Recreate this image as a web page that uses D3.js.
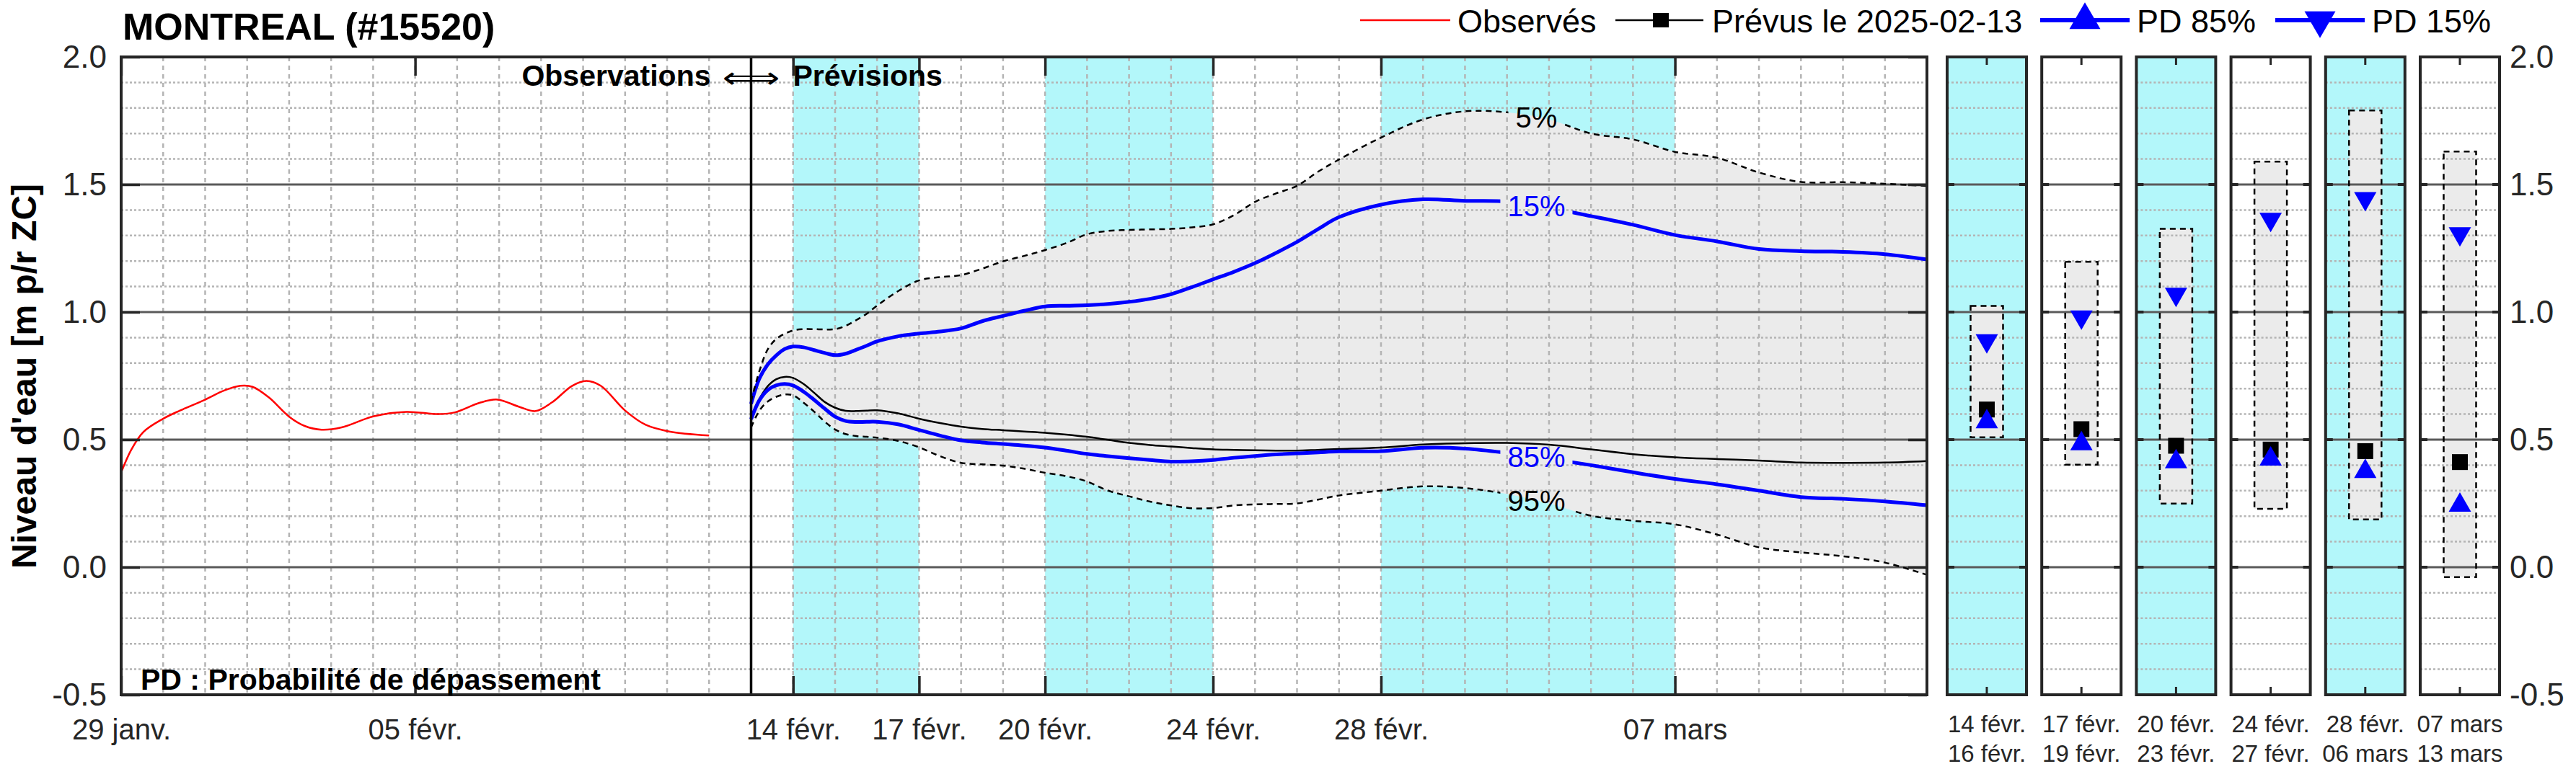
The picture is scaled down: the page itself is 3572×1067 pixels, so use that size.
<!DOCTYPE html>
<html><head><meta charset="utf-8">
<script src="https://cdn.jsdelivr.net/npm/d3@7"></script>
<style>
body{margin:0;background:#fff}
svg{display:block;font-family:"Liberation Sans",Arial,Helvetica,sans-serif}
</style>
</head><body>
<svg id="chart" width="3572" height="1067"></svg>
<script>
// ---------------- DATA ----------------
const title = "MONTREAL (#15520)";
const yAxisTitle = "Niveau d'eau [m p/r ZC]";
const obsStart = "2025-01-29";
const obsDays  = [0,0.24,0.53,0.99,1.4,1.99,2.46,2.84,3.13,3.52,4.0,4.38,4.77,5.25,6.02,6.79,7.56,7.95,8.53,8.96,9.49,9.87,10.26,10.74,11.08,11.42,12.0,12.49,13.05,14.0];
const obsLevel = [0.371,0.46,0.53,0.581,0.614,0.656,0.693,0.711,0.707,0.665,0.59,0.553,0.539,0.548,0.592,0.609,0.6,0.607,0.644,0.657,0.628,0.612,0.646,0.711,0.73,0.711,0.614,0.558,0.532,0.516];

const fcStart = "2025-02-13";
const fcDays = [0,0.2,0.4,0.6,0.8,1.0,1.25,1.5,1.75,2.0,2.25,2.5,2.75,3.0,3.5,4.0,4.5,5.0,5.5,6.0,6.5,7.0,7.5,8.0,8.5,9.0,9.5,10,10.5,11,11.5,12,12.5,13,13.5,14,15,16,17,18,19,20,21,22,23,24,25,26,27,28];
const p05 = [0.65,0.77,0.855,0.895,0.915,0.928,0.933,0.933,0.932,0.933,0.946,0.968,0.993,1.025,1.082,1.124,1.137,1.145,1.17,1.199,1.22,1.243,1.27,1.305,1.318,1.322,1.324,1.326,1.332,1.344,1.38,1.432,1.465,1.495,1.55,1.598,1.684,1.755,1.787,1.783,1.755,1.70,1.677,1.628,1.605,1.547,1.51,1.509,1.503,1.494];
const p15 = [0.64,0.74,0.795,0.83,0.855,0.865,0.862,0.851,0.84,0.831,0.837,0.852,0.868,0.885,0.905,0.916,0.924,0.936,0.964,0.985,1.005,1.022,1.025,1.027,1.032,1.04,1.052,1.07,1.098,1.128,1.158,1.192,1.232,1.275,1.325,1.372,1.421,1.442,1.436,1.433,1.408,1.376,1.342,1.302,1.277,1.247,1.239,1.236,1.227,1.206];
const prevu = [0.59,0.66,0.71,0.737,0.746,0.742,0.718,0.684,0.648,0.625,0.613,0.612,0.614,0.615,0.603,0.582,0.565,0.551,0.542,0.537,0.532,0.527,0.52,0.511,0.499,0.487,0.479,0.473,0.467,0.462,0.46,0.458,0.457,0.457,0.46,0.463,0.469,0.481,0.486,0.487,0.48,0.462,0.443,0.431,0.424,0.418,0.41,0.409,0.41,0.416];
const p85 = [0.58,0.655,0.695,0.713,0.718,0.712,0.688,0.656,0.622,0.59,0.573,0.569,0.57,0.57,0.56,0.538,0.516,0.497,0.489,0.483,0.477,0.469,0.457,0.444,0.435,0.427,0.42,0.414,0.415,0.42,0.429,0.436,0.442,0.446,0.45,0.454,0.455,0.468,0.465,0.448,0.425,0.4,0.372,0.346,0.325,0.3,0.275,0.268,0.258,0.243];
const p95 = [0.548,0.614,0.65,0.668,0.677,0.674,0.645,0.61,0.571,0.54,0.522,0.514,0.511,0.508,0.495,0.47,0.435,0.409,0.403,0.398,0.386,0.37,0.357,0.336,0.3,0.278,0.257,0.242,0.231,0.232,0.242,0.246,0.248,0.25,0.265,0.281,0.3,0.317,0.31,0.287,0.25,0.202,0.182,0.168,0.128,0.078,0.058,0.043,0.018,-0.03];

const contourLabels = ["5%","15%","85%","95%"];
const contourLabelDay = 18.7;

const xDomain = ["2025-01-29","2025-03-13"];
const xTickDates  = ["2025-01-29","2025-02-05","2025-02-14","2025-02-17","2025-02-20","2025-02-24","2025-02-28","2025-03-07"];
const xTickLabels = ["29 janv.","05 févr.","14 févr.","17 févr.","20 févr.","24 févr.","28 févr.","07 mars"];
const shadeStarts = ["2025-02-14","2025-02-20","2025-02-28"];
const shadeEnds   = ["2025-02-17","2025-02-24","2025-03-07"];
const yDomain = [-0.5, 2.0];
const yTicks = [-0.5,0,0.5,1,1.5,2];
const yTickLabels = ["-0.5","0.0","0.5","1.0","1.5","2.0"];

const periodStart  = ["14 févr.","17 févr.","20 févr.","24 févr.","28 févr.","07 mars"];
const periodEnd    = ["16 févr.","19 févr.","23 févr.","27 févr.","06 mars","13 mars"];
const periodShaded = [true,false,true,false,true,false];
const periodMax    = [1.024,1.197,1.326,1.59,1.79,1.629];
const periodMin    = [0.509,0.402,0.249,0.229,0.187,-0.039];
const periodPD15   = [0.888,0.981,1.070,1.364,1.445,1.307];
const periodPrevu  = [0.618,0.541,0.476,0.461,0.455,0.412];
const periodPD85   = [0.570,0.484,0.413,0.424,0.375,0.243];

const legendLabels = ["Observés","Prévus le 2025-02-13","PD 85%","PD 15%"];
const noteObs = "Observations";
const noteArrow = "\u27FA";
const notePrev = "Prévisions";
const notePD = "PD : Probabilité de dépassement";

// ---------------- STYLE / LAYOUT ----------------
const CYAN = "#b3f7fa", FILL = "#ebebeb", FRAME = "#262626", GRID = "#b4b4b4", MAJOR = "#5a5a5a", BLUE = "#0000ff";
const M = {left:168, right:2672, top:79, bottom:964};
const svg = d3.select("#chart");
const parse = s => new Date(s + "T00:00:00Z");
const addDays = (base, d) => new Date(parse(base).getTime() + d * 864e5);

const x = d3.scaleUtc().domain(xDomain.map(parse)).range([M.left, M.right]);
const y = d3.scaleLinear().domain(yDomain).range([M.bottom, M.top]);
const curve = d3.curveCatmullRom.alpha(0.5);

// ---------------- MAIN PLOT ----------------
const g = svg.append("g");
g.selectAll("rect.shade").data(shadeStarts).join("rect")
  .attr("x", (d) => x(parse(d))).attr("y", M.top)
  .attr("width", (d,i) => x(parse(shadeEnds[i])) - x(parse(d)))
  .attr("height", M.bottom - M.top).attr("fill", CYAN);

const fc = fcDays.map((d,i) => ({t: addDays(fcStart, d), p05:p05[i], p15:p15[i], med:prevu[i], p85:p85[i], p95:p95[i]}));
const obs = obsDays.map((d,i) => ({t: addDays(obsStart, d), v: obsLevel[i]}));

g.append("path").datum(fc)
  .attr("d", d3.area().x(d => x(d.t)).y0(d => y(d.p95)).y1(d => y(d.p05)).curve(curve))
  .attr("fill", FILL);

const grid = g.append("g");
const days = d3.utcDay.range(d3.utcDay.offset(parse(xDomain[0]),1), parse(xDomain[1]));
grid.selectAll("line.v").data(days).join("line")
  .attr("x1", d => x(d)).attr("x2", d => x(d)).attr("y1", M.top).attr("y2", M.bottom)
  .attr("stroke", GRID).attr("stroke-width", 2.5).attr("stroke-dasharray", "6,6");
const minorY = d3.range(-4, 20).filter(k => k % 5 !== 0).map(k => k/10);
grid.selectAll("line.h").data(minorY).join("line")
  .attr("x1", M.left).attr("x2", M.right).attr("y1", d => y(d)).attr("y2", d => y(d))
  .attr("stroke", GRID).attr("stroke-width", 2.5).attr("stroke-dasharray", "3,3");
grid.selectAll("line.M").data(yTicks.filter(v => v > yDomain[0] && v < yDomain[1])).join("line")
  .attr("x1", M.left).attr("x2", M.right).attr("y1", d => y(d)).attr("y2", d => y(d))
  .attr("stroke", MAJOR).attr("stroke-width", 3);

g.append("path").datum(obs)
  .attr("d", d3.line().x(d => x(d.t)).y(d => y(d.v)).curve(curve))
  .attr("fill", "none").attr("stroke", "#ff0000").attr("stroke-width", 2.5);

g.append("path").datum(fc)
  .attr("d", d3.line().x(d => x(d.t)).y(d => y(d.med)).curve(curve))
  .attr("fill", "none").attr("stroke", "#000").attr("stroke-width", 2.5);

const labelDate = addDays(fcStart, contourLabelDay);
const interp = (arr) => {
  const i = d3.bisectRight(fcDays, contourLabelDay) - 1;
  const f = (contourLabelDay - fcDays[i]) / (fcDays[i+1] - fcDays[i]);
  return arr[i] + f * (arr[i+1] - arr[i]);
};
const labelVals = [p05, p15, p85, p95].map(interp);
const labelColors = ["#000", BLUE, BLUE, "#000"];
const defs = svg.append("defs");
const mask = defs.append("mask").attr("id","gapmask").attr("maskUnits","userSpaceOnUse")
  .attr("x",0).attr("y",0).attr("width",3572).attr("height",1067);
mask.append("rect").attr("x",0).attr("y",0).attr("width",3572).attr("height",1067).attr("fill","#fff");

const lines = g.append("g").attr("mask","url(#gapmask)");
lines.append("path").datum(fc).attr("d", d3.line().x(d => x(d.t)).y(d => y(d.p15)).curve(curve))
  .attr("fill","none").attr("stroke",BLUE).attr("stroke-width",5);
lines.append("path").datum(fc).attr("d", d3.line().x(d => x(d.t)).y(d => y(d.p85)).curve(curve))
  .attr("fill","none").attr("stroke",BLUE).attr("stroke-width",5);
lines.append("path").datum(fc).attr("d", d3.line().x(d => x(d.t)).y(d => y(d.p05)).curve(curve))
  .attr("fill","none").attr("stroke","#000").attr("stroke-width",2.5).attr("stroke-dasharray","8,6");
lines.append("path").datum(fc).attr("d", d3.line().x(d => x(d.t)).y(d => y(d.p95)).curve(curve))
  .attr("fill","none").attr("stroke","#000").attr("stroke-width",2.5).attr("stroke-dasharray","8,6");

const lblG = g.append("g");
contourLabels.forEach((t,i) => {
  const tx = lblG.append("text").attr("x", x(labelDate)).attr("y", y(labelVals[i]))
    .attr("text-anchor","middle").attr("dominant-baseline","central")
    .attr("font-size", 40).attr("fill", labelColors[i]).text(t);
  const w = tx.node().getComputedTextLength();
  mask.append("rect").attr("x", x(labelDate) - w/2 - 10).attr("y", y(labelVals[i]) - 26)
    .attr("width", w + 20).attr("height", 52).attr("fill","#000");
});

g.append("line").attr("x1", x(parse(fcStart))).attr("x2", x(parse(fcStart)))
  .attr("y1", M.top).attr("y2", M.bottom).attr("stroke","#000").attr("stroke-width",3.5);

const axB = d3.axisBottom(x).tickValues(xTickDates.map(parse)).tickFormat((d,i) => xTickLabels[i])
  .tickSizeInner(-26).tickSizeOuter(0).tickPadding(34);
const gB = g.append("g").attr("transform", `translate(0,${M.bottom})`).call(axB);
const axT = d3.axisTop(x).tickValues(xTickDates.map(parse)).tickFormat("").tickSizeInner(-26).tickSizeOuter(0);
const gT = g.append("g").attr("transform", `translate(0,${M.top})`).call(axT);
const axL = d3.axisLeft(y).tickValues(yTicks).tickFormat((d,i) => yTickLabels[i]).tickSizeInner(-26).tickSizeOuter(0).tickPadding(20);
const gL = g.append("g").attr("transform", `translate(${M.left},0)`).call(axL);
const axR = d3.axisRight(y).tickValues(yTicks).tickFormat("").tickSizeInner(-26).tickSizeOuter(0);
const gR = g.append("g").attr("transform", `translate(${M.right},0)`).call(axR);
[gB,gT,gL,gR].forEach(a => {
  a.select(".domain").remove();
  a.selectAll(".tick line").attr("stroke", FRAME).attr("stroke-width", 3.5);
  a.selectAll("text").attr("fill", FRAME).attr("font-family", null);
});
gB.selectAll("text").attr("font-size", 40);
gL.selectAll("text").attr("font-size", 44);
g.append("rect").attr("x", M.left).attr("y", M.top).attr("width", M.right - M.left).attr("height", M.bottom - M.top)
  .attr("fill","none").attr("stroke", FRAME).attr("stroke-width", 4);

const bx = x(parse(fcStart));
g.append("text").attr("x", bx - 56).attr("y", 119).attr("text-anchor","end")
  .attr("font-size",41).attr("font-weight","bold").text(noteObs);
g.append("text").attr("x", bx).attr("y", 108).attr("text-anchor","middle").attr("dominant-baseline","central")
  .attr("font-size",41).attr("textLength",80).attr("lengthAdjust","spacingAndGlyphs")
  .style("font-family","DejaVu Sans").text(noteArrow);
g.append("text").attr("x", bx + 58).attr("y", 119)
  .attr("font-size",41).attr("font-weight","bold").text(notePrev);
g.append("text").attr("x", 195).attr("y", 957)
  .attr("font-size",41).attr("font-weight","bold").text(notePD);

svg.append("text").attr("x", 170).attr("y", 55).attr("font-size", 52).attr("font-weight","bold").text(title);
svg.append("text").attr("transform","translate(50,522) rotate(-90)").attr("text-anchor","middle")
  .attr("font-size", 48).attr("font-weight","bold").text(yAxisTitle);

// ---------------- PANELS ----------------
const pb = d3.scaleBand().domain(d3.range(periodStart.length)).range([2700, 3466]).paddingInner(0.1616).paddingOuter(0);
const triUp = (w,h) => `M0,${-2*h/3}L${w/2},${h/3}L${-w/2},${h/3}Z`;
const triDown = (w,h) => `M0,${2*h/3}L${w/2},${-h/3}L${-w/2},${-h/3}Z`;

periodStart.forEach((lab, i) => {
  const px = pb(i), pw = pb.bandwidth(), cx = px + pw/2;
  const pg = svg.append("g");
  pg.append("rect").attr("x", px).attr("y", M.top).attr("width", pw).attr("height", M.bottom - M.top)
    .attr("fill", periodShaded[i] ? CYAN : "#fff");
  pg.append("rect").attr("x", cx - 22.5).attr("y", y(periodMax[i])).attr("width", 45)
    .attr("height", y(periodMin[i]) - y(periodMax[i])).attr("fill", FILL);
  pg.selectAll("line.h").data(minorY).join("line")
    .attr("x1", px).attr("x2", px + pw).attr("y1", d => y(d)).attr("y2", d => y(d))
    .attr("stroke", GRID).attr("stroke-width", 2.5).attr("stroke-dasharray", "3,3");
  pg.selectAll("line.M").data(yTicks.filter(v => v > yDomain[0] && v < yDomain[1])).join("line")
    .attr("x1", px).attr("x2", px + pw).attr("y1", d => y(d)).attr("y2", d => y(d))
    .attr("stroke", MAJOR).attr("stroke-width", 3);
  pg.append("rect").attr("x", cx - 22.5).attr("y", y(periodMax[i])).attr("width", 45)
    .attr("height", y(periodMin[i]) - y(periodMax[i])).attr("fill", "none")
    .attr("stroke","#000").attr("stroke-width",2.5).attr("stroke-dasharray","8,6");
  pg.append("rect").attr("x", cx - 11).attr("y", y(periodPrevu[i]) - 11).attr("width", 22).attr("height", 22).attr("fill","#000");
  pg.append("path").attr("d", triUp(31,27)).attr("transform", `translate(${cx},${y(periodPD85[i])})`).attr("fill", BLUE);
  pg.append("path").attr("d", triDown(31,27)).attr("transform", `translate(${cx},${y(periodPD15[i])})`).attr("fill", BLUE);
  yTicks.forEach(v => {
    pg.append("line").attr("x1", px).attr("x2", px + 10).attr("y1", y(v)).attr("y2", y(v)).attr("stroke", FRAME).attr("stroke-width", 4);
    pg.append("line").attr("x1", px + pw - 10).attr("x2", px + pw).attr("y1", y(v)).attr("y2", y(v)).attr("stroke", FRAME).attr("stroke-width", 4);
  });
  pg.append("line").attr("x1", cx).attr("x2", cx).attr("y1", M.top).attr("y2", M.top + 11).attr("stroke", FRAME).attr("stroke-width", 3);
  pg.append("line").attr("x1", cx).attr("x2", cx).attr("y1", M.bottom).attr("y2", M.bottom - 11).attr("stroke", FRAME).attr("stroke-width", 3);
  pg.append("rect").attr("x", px).attr("y", M.top).attr("width", pw).attr("height", M.bottom - M.top)
    .attr("fill","none").attr("stroke", FRAME).attr("stroke-width", 4);
  pg.append("text").attr("x", cx).attr("y", 1016).attr("text-anchor","middle").attr("font-size",33).attr("fill",FRAME).text(lab);
  pg.append("text").attr("x", cx).attr("y", 1057).attr("text-anchor","middle").attr("font-size",33).attr("fill",FRAME).text(periodEnd[i]);
});
const lastX = pb(periodStart.length - 1) + pb.bandwidth();
const axRR = d3.axisRight(y).tickValues(yTicks).tickFormat((d,i) => yTickLabels[i]).tickSize(0).tickPadding(14);
const gRR = svg.append("g").attr("transform", `translate(${lastX},0)`).call(axRR);
gRR.select(".domain").remove();
gRR.selectAll("text").attr("font-size", 44).attr("fill", FRAME).attr("font-family", null);

// ---------------- LEGEND ----------------
const lg = svg.append("g");
const ly = 28, lt = 45;
lg.append("line").attr("x1",1886).attr("x2",2011).attr("y1",ly).attr("y2",ly).attr("stroke","#ff0000").attr("stroke-width",2.5);
lg.append("text").attr("x",2021).attr("y",lt).attr("font-size",45).text(legendLabels[0]);
lg.append("line").attr("x1",2240).attr("x2",2362).attr("y1",ly).attr("y2",ly).attr("stroke","#000").attr("stroke-width",2.5);
lg.append("rect").attr("x",2303-11).attr("y",ly-10).attr("width",22).attr("height",20).attr("fill","#000");
lg.append("text").attr("x",2374).attr("y",lt).attr("font-size",45).text(legendLabels[1]);
lg.append("line").attr("x1",2829).attr("x2",2953).attr("y1",ly).attr("y2",ly).attr("stroke",BLUE).attr("stroke-width",6);
lg.append("path").attr("d", triUp(43,37)).attr("transform",`translate(2891,${ly})`).attr("fill",BLUE);
lg.append("text").attr("x",2963).attr("y",lt).attr("font-size",45).text(legendLabels[2]);
lg.append("line").attr("x1",3155).attr("x2",3279).attr("y1",ly).attr("y2",ly).attr("stroke",BLUE).attr("stroke-width",6);
lg.append("path").attr("d", triDown(43,37)).attr("transform",`translate(3217,${ly})`).attr("fill",BLUE);
lg.append("text").attr("x",3289).attr("y",lt).attr("font-size",45).text(legendLabels[3]);
</script>
</body></html>
